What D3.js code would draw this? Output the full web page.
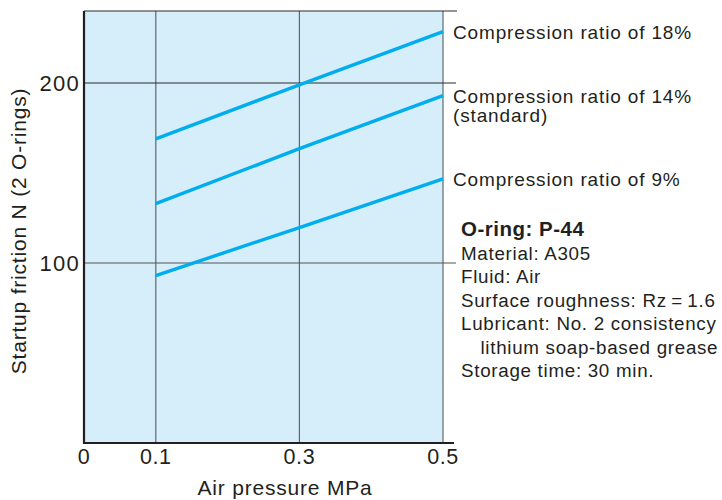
<!DOCTYPE html>
<html>
<head>
<meta charset="utf-8">
<script src="https://cdn.jsdelivr.net/npm/d3@7"></script>
<style>
  html, body { margin: 0; padding: 0; background: #fff; }
  svg { display: block; }
  text { font-family: "Liberation Sans", Arial, Helvetica, sans-serif; fill: #231f20; }
</style>
</head>
<body>
<svg id="chart" width="722" height="500"></svg>
<script>
// ---- data ----
const pressures = [0.1, 0.3, 0.5];                // MPa
const ratio18 = [169, 199, 228.5];                 // N
const ratio14 = [133, 163.5, 193];                 // N
const ratio9  = [93, 119.7, 146.7];                // N
const seriesLabels = [
  ["Compression ratio of 18%"],
  ["Compression ratio of 14%", "(standard)"],
  ["Compression ratio of 9%"]
];
const xTickValues = [0, 0.1, 0.3, 0.5];
const xTickLabels = ["0", "0.1", "0.3", "0.5"];
const yTickValues = [100, 200];
const xTitle = "Air pressure MPa";
const yTitle = "Startup friction N (2 O-rings)";
const infoTitle = "O-ring: P-44";
const infoLines = [
  "Material: A305",
  "Fluid: Air",
  "Surface roughness: Rz\u2009=\u20091.6",
  "Lubricant: No. 2 consistency",
  "\u2003lithium soap-based grease",
  "Storage time: 30 min."
];

// ---- layout ----
const svg = d3.select("#chart");
const x = d3.scaleLinear().domain([0, 0.5]).range([84, 443]);
const y = d3.scaleLinear().domain([0, 240]).range([443, 11]);

// background
svg.append("rect")
  .attr("x", x(0)).attr("y", y(240))
  .attr("width", x(0.5) - x(0)).attr("height", y(0) - y(240))
  .attr("fill", "#d6edfa");

// vertical grid lines
svg.selectAll("line.vgrid").data([0.1, 0.3, 0.5]).enter().append("line")
  .attr("class", "vgrid")
  .attr("x1", d => x(d)).attr("x2", d => x(d))
  .attr("y1", y(240)).attr("y2", y(0))
  .attr("stroke", "#5f6870").attr("stroke-width", 1.2);

// horizontal grid lines (extend past the right border)
svg.selectAll("line.hgrid").data(yTickValues).enter().append("line")
  .attr("class", "hgrid")
  .attr("x1", x(0)).attr("x2", 456)
  .attr("y1", d => y(d)).attr("y2", d => y(d))
  .attr("stroke", d => d === 200 ? "#2a2a2a" : "#555").attr("stroke-width", 1.1);

// top border
svg.append("line")
  .attr("x1", x(0)).attr("x2", 457)
  .attr("y1", y(240)).attr("y2", y(240))
  .attr("stroke", "#2a2a2a").attr("stroke-width", 1.1);

// axes lines
svg.append("line")
  .attr("x1", x(0)).attr("x2", x(0))
  .attr("y1", y(240)).attr("y2", y(0) + 1)
  .attr("stroke", "#231f20").attr("stroke-width", 2.2);
svg.append("line")
  .attr("x1", x(0) - 1).attr("x2", 454)
  .attr("y1", y(0)).attr("y2", y(0))
  .attr("stroke", "#231f20").attr("stroke-width", 2.2);

// series lines
const line = d3.line().x((d, i) => x(pressures[i])).y(d => y(d));
const allSeries = [ratio18, ratio14, ratio9];
svg.selectAll("path.series").data(allSeries).enter().append("path")
  .attr("class", "series")
  .attr("d", d => line(d))
  .attr("fill", "none")
  .attr("stroke", "#00aeef")
  .attr("stroke-width", 3.4);

// x tick labels
svg.selectAll("text.xtick").data(xTickValues).enter().append("text")
  .attr("class", "xtick")
  .attr("x", d => x(d)).attr("y", 464)
  .attr("text-anchor", "middle")
  .attr("font-size", 21.5).attr("letter-spacing", 0.6)
  .text((d, i) => xTickLabels[i]);

// y tick labels
svg.selectAll("text.ytick").data(yTickValues).enter().append("text")
  .attr("class", "ytick")
  .attr("x", 80).attr("y", d => y(d) + 7.8)
  .attr("text-anchor", "end")
  .attr("font-size", 22).attr("letter-spacing", 1.3)
  .text(d => d);

// axis titles
svg.append("text")
  .attr("x", 285).attr("y", 495)
  .attr("text-anchor", "middle")
  .attr("font-size", 21).attr("letter-spacing", 0.8)
  .text(xTitle);
svg.append("text")
  .attr("transform", "translate(26,231) rotate(-90)")
  .attr("text-anchor", "middle")
  .attr("font-size", 21).attr("letter-spacing", 0.8)
  .text(yTitle);

// series labels (aligned to line ends)
allSeries.forEach((s, k) => {
  const yEnd = y(s[s.length - 1]);
  const t = svg.append("text")
    .attr("x", 453).attr("y", yEnd + 7)
    .attr("font-size", 19).attr("letter-spacing", 0.85);
  seriesLabels[k].forEach((str, j) => {
    t.append("tspan").attr("x", 453).attr("dy", j === 0 ? 0 : 19.8).text(str);
  });
});

// info block
svg.append("text")
  .attr("x", 461).attr("y", 236)
  .attr("font-size", 20.5).attr("font-weight", "bold").attr("letter-spacing", 0.5)
  .text(infoTitle);
svg.selectAll("text.info").data(infoLines).enter().append("text")
  .attr("class", "info")
  .attr("x", 461).attr("y", (d, i) => 260 + i * 23.4)
  .attr("font-size", 18.8).attr("letter-spacing", 0.7)
  .attr("xml:space", "preserve")
  .style("white-space", "pre")
  .text(d => d);
</script>
</body>
</html>
